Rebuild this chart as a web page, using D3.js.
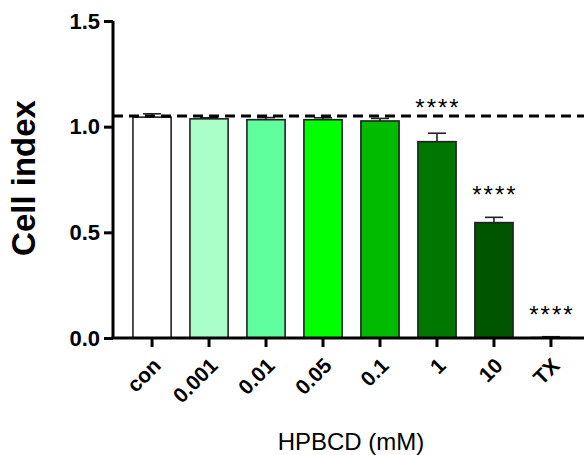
<!DOCTYPE html>
<meta charset="utf-8">
<script src="https://d3js.org/d3.v7.min.js"></script>
<style>
  body { margin: 0; background: #fff; }
</style>
<div id="my_dataviz"></div>
<script>

// data
var categories = ["con", "0.001", "0.01", "0.05", "0.1", "1", "10", "TX"];
var means  = [1.045, 1.037, 1.033, 1.033, 1.027, 0.929, 0.546, 0.002];
var errors = [0.016, 0.005, 0.010, 0.009, 0.012, 0.040, 0.025, 0.004];
var colors = ["#ffffff", "#aaffc8", "#5eff9c", "#00ff00", "#00bb00", "#007700", "#005500", "#ffffff"];
var stars  = ["", "", "", "", "", "****", "****", "****"];
var yTicks = [0.0, 0.5, 1.0, 1.5];
var refLine = 1.05;

var width = 584, height = 455;

var svg = d3.select("#my_dataviz")
  .append("svg")
    .attr("width", width)
    .attr("height", height)
    .style("font-family", "Arial, 'Liberation Sans', sans-serif");

var x = d3.scaleBand()
  .domain(categories)
  .range([113, 590])
  .paddingInner(0.33)
  .paddingOuter(0.35);

var y = d3.scaleLinear()
  .domain([0, 1.5])
  .range([338, 21]);

// bars
svg.selectAll(".bar")
  .data(categories)
  .enter()
  .append("rect")
    .attr("x", function(d) { return x(d) })
    .attr("width", x.bandwidth())
    .attr("y", function(d, i) { return y(means[i]) })
    .attr("height", function(d, i) { return y(0) - y(means[i]) })
    .attr("fill", function(d, i) { return colors[i] })
    .attr("stroke", "#222")
    .attr("stroke-width", 1.6);

// error bars (upper only)
var err = svg.append("g")
  .attr("stroke", "#222")
  .attr("stroke-width", 1.6);
categories.forEach(function(c, i) {
  var cx = x(c) + x.bandwidth() / 2;
  err.append("line")
    .attr("x1", cx).attr("x2", cx)
    .attr("y1", y(means[i])).attr("y2", y(means[i] + errors[i]));
  err.append("line")
    .attr("x1", cx - 9).attr("x2", cx + 9)
    .attr("y1", y(means[i] + errors[i])).attr("y2", y(means[i] + errors[i]));
});

// dashed reference line
svg.append("line")
  .attr("x1", 113).attr("x2", width)
  .attr("y1", y(refLine)).attr("y2", y(refLine))
  .attr("stroke", "#000")
  .attr("stroke-width", 3)
  .attr("stroke-dasharray", "10,6");

// significance stars
svg.selectAll(".star")
  .data(categories)
  .enter()
  .append("text")
    .attr("x", function(d) { return x(d) + x.bandwidth() / 2 + 1 })
    .attr("y", function(d, i) {
      if (i == 5) return y(refLine);
      return y(means[i] + errors[i]) - 14;
    })
    .attr("text-anchor", "middle")
    .style("font-size", "24px")
    .style("letter-spacing", "2px")
    .text(function(d, i) { return stars[i] });

// Y axis
var yAxis = svg.append("g")
  .attr("transform", "translate(113,0)")
  .call(d3.axisLeft(y)
    .tickValues(yTicks)
    .tickFormat(d3.format(".1f"))
    .tickSize(9)
    .tickPadding(4));
yAxis.select(".domain").attr("stroke-width", 3).attr("d", "M0," + y(1.5) + "V" + y(0));
yAxis.selectAll(".tick line").attr("stroke-width", 3);
yAxis.selectAll(".tick text")
  .style("font-size", "22px")
  .style("font-weight", "bold")
  .attr("fill", "#000");

// X axis
var xAxis = svg.append("g")
  .attr("transform", "translate(0," + y(0) + ")")
  .call(d3.axisBottom(x).tickSize(9).tickSizeOuter(0));
xAxis.select(".domain").attr("stroke-width", 3).attr("d", "M111.5,0H" + width);
xAxis.selectAll(".tick line").attr("stroke-width", 3);
xAxis.selectAll(".tick text")
  .style("font-size", "21px")
  .style("font-weight", "bold")
  .attr("fill", "#000")
  .attr("text-anchor", "end")
  .attr("x", 0)
  .attr("y", 0)
  .attr("dy", null)
  .attr("transform", "translate(10,29) rotate(-45)");

// axis labels
svg.append("text")
  .attr("transform", "translate(35,178) rotate(-90)")
  .attr("text-anchor", "middle")
  .style("font-size", "33px")
  .style("font-weight", "bold")
  .text("Cell index");

svg.append("text")
  .attr("x", 351)
  .attr("y", 450)
  .attr("text-anchor", "middle")
  .style("font-size", "24px")
  .text("HPBCD (mM)");

</script>
